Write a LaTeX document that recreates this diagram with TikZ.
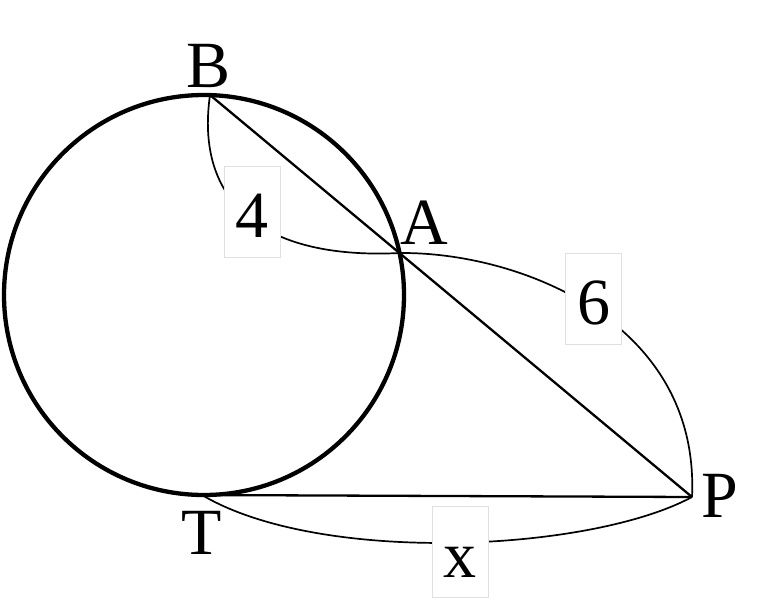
\documentclass[tikz,border=0pt]{standalone}
\usepackage{fontspec}
\setmainfont{Liberation Serif}

\def\labsize{\fontsize{66}{72}\selectfont}
\def\rad{200pt}

\tikzset{
  lenbox/.style={fill=white,draw=black!12,line width=0.8pt,inner sep=0pt,
    minimum width=56pt,text height=71pt,text depth=20pt,font=\labsize},
  vlabel/.style={inner sep=0pt,anchor=base,font=\labsize},
  bow/.style={line width=1.7pt},
  seg/.style={line width=2.3pt}
}

\begin{document}
\begin{tikzpicture}[x=1pt,y=-1pt]
 \useasboundingbox (0,0) rectangle (782,600);
 % Points
 \coordinate (O) at (204,295);
 \coordinate (B) at (210,95);
 \coordinate (A) at (400,253);
 \coordinate (T) at (202,495);
 \coordinate (P) at (692,497);
 % Circle
 \draw[line width=4.3pt] (O) circle (\rad);
 % Secant and tangent
 \draw[seg] (B) -- (P);
 \draw[seg] (T) -- (P);
 % Length curves
 \draw[bow] (B) .. controls (195,200) and (260,260) .. (A);
 \draw[bow] (A) .. controls (520,252) and (700,322) .. (P);
 \draw[bow] (T) .. controls (320,565) and (590,552) .. (P);
 % Lengths
 \node[lenbox] (l4) at (252,211.5) {4};
 \node[lenbox] (l6) at (593.5,299) {6};
 \node[lenbox] (lx) at (460,552) {x};
 % Vertex labels
 \node[vlabel] (nB) at (209,87) {B};
 \node[vlabel] (nA) at (424,244) {A};
 \node[vlabel] (nT) at (202,554) {T};
 \node[vlabel] (nP) at (720,517) {P};
\end{tikzpicture}
\end{document}
